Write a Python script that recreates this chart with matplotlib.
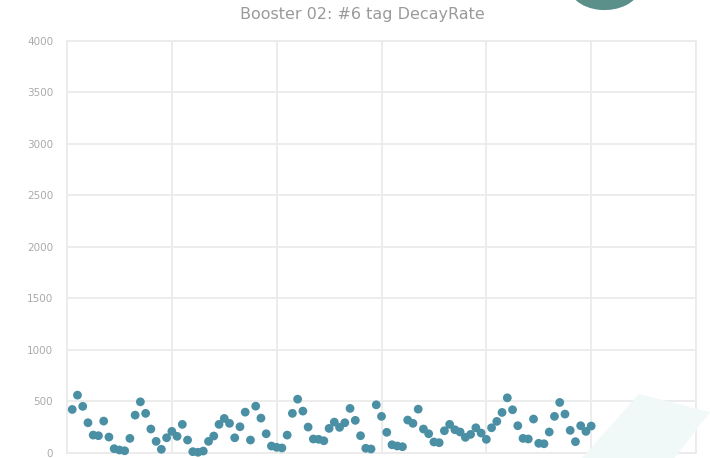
import matplotlib
matplotlib.use("Agg")
import matplotlib.pyplot as plt
from matplotlib.patches import Ellipse, Polygon

title = "Booster 02: #6 tag DecayRate"
x_values = list(range(1, 101))
decay_rate = [
    421, 560, 451, 292, 172, 166, 308, 153, 40, 27,
    20, 140, 366, 495, 383, 231, 111, 34, 146, 208,
    160, 276, 124, 11, 5, 17, 111, 163, 276, 334,
    286, 146, 253, 395, 124, 453, 337, 185, 66, 53,
    47, 172, 383, 521, 405, 250, 134, 131, 117, 237,
    298, 247, 292, 431, 315, 166, 44, 37, 466, 354,
    199, 78, 66, 59, 318, 286, 424, 231, 185, 105,
    98, 214, 276, 224, 202, 150, 179, 243, 192, 131,
    243, 305, 392, 534, 418, 263, 140, 134, 328, 92,
    88, 202, 354, 489, 376, 218, 108, 263, 208, 260,
]
y_ticks = [0, 500, 1000, 1500, 2000, 2500, 3000, 3500, 4000]
x_ticks = [0, 20, 40, 60, 80, 100, 120]

fig = plt.figure(figsize=(7.10, 4.58), dpi=100)
fig.patch.set_facecolor("white")

# decorative shapes
fig.patches.append(Polygon([[0.82, 0.0], [0.95, 0.0], [1.0, 0.10], [0.90, 0.14]],
                           closed=True, transform=fig.transFigure,
                           facecolor="#f1f9f8", edgecolor="none", zorder=0))
fig.patches.append(Ellipse((0.852, 1.03), 0.10, 0.104, angle=-8, transform=fig.transFigure,
                           facecolor="#5b8f89", edgecolor="none", zorder=5))

ax = fig.add_axes([67 / 710, 1 - 452.8 / 458, (696 - 67) / 710, (452.8 - 41) / 458])
ax.set_facecolor("none")
ax.scatter(x_values, decay_rate, s=40, color="#4a8fa3", edgecolors="none", zorder=3, clip_on=False)

ax.set_xlim(0, 120)
ax.set_ylim(0, 4000)
ax.set_xticks(x_ticks)
ax.set_yticks(y_ticks)
ax.set_xticklabels([])
ax.set_yticklabels([str(v) for v in y_ticks], color="#aaaaaa", fontsize=7.5)
ax.tick_params(length=0, pad=10)
ax.grid(True, color="#ebebeb", linewidth=1.3, zorder=0)
ax.set_axisbelow(True)
for s in ax.spines.values():
    s.set_color("#ebebeb")
    s.set_linewidth(1.3)

fig.text(362 / 710, 1 - 14 / 458, title, ha="center", va="center",
         fontsize=11.5, color="#9a9a9a", family="DejaVu Sans")

fig.savefig("out.png", dpi=100)
